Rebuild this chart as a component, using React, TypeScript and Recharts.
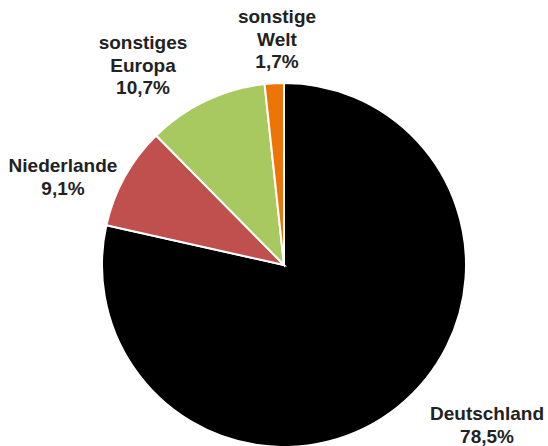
import { PieChart, Pie, Cell } from 'recharts';

const COUNTRIES = ['Deutschland', 'Niederlande', 'sonstiges Europa', 'sonstige Welt'];
const SHARES = [78.5, 9.1, 10.7, 1.7];
const LABEL_LINES = [['Deutschland'], ['Niederlande'], ['sonstiges', 'Europa'], ['sonstige', 'Welt']];

const COLORS = ['#000000', '#c0504d', '#a8c95f', '#ec7408'];

// where each label block sits, relative to the pie centre (x = centre, y = first line)
const LABEL_POS = [
  { dx: 203, dy: 155 },
  { dx: -221, dy: -93 },
  { dx: -141, dy: -216 },
  { dx: -7, dy: -242 },
];

const data = COUNTRIES.map((name, i) => ({ name, value: SHARES[i] }));

const fmt = (v: number) => v.toFixed(1).replace('.', ',') + '%';

const renderLabel = (props: any) => {
  const { cx, cy, index, value } = props;
  const pos = LABEL_POS[index];
  const lines = [...LABEL_LINES[index], fmt(value)];
  return (
    <text
      x={cx + pos.dx}
      y={cy + pos.dy}
      textAnchor="middle"
      fill="#222222"
      fontFamily="'Liberation Sans', Arial, sans-serif"
      fontWeight="bold"
      fontSize={19}
    >
      {lines.map((l, i) => (
        <tspan key={i} x={cx + pos.dx} dy={i === 0 ? 0 : 22.5}>
          {l}
        </tspan>
      ))}
    </text>
  );
};

export default function App() {
  return (
    <div style={{ position: 'absolute', left: 0, top: 0, width: 548, height: 446, background: '#fff' }}>
      <PieChart width={548} height={446} margin={{ top: 0, right: 0, bottom: 0, left: 0 }}>
        <Pie
          data={data}
          dataKey="value"
          cx={284}
          cy={265}
          outerRadius={182}
          startAngle={90}
          endAngle={-270}
          stroke="#ffffff"
          strokeWidth={2}
          label={renderLabel}
          labelLine={false}
          isAnimationActive={false}
        >
          {data.map((_, i) => (
            <Cell key={i} fill={COLORS[i]} />
          ))}
        </Pie>
      </PieChart>
    </div>
  );
}
